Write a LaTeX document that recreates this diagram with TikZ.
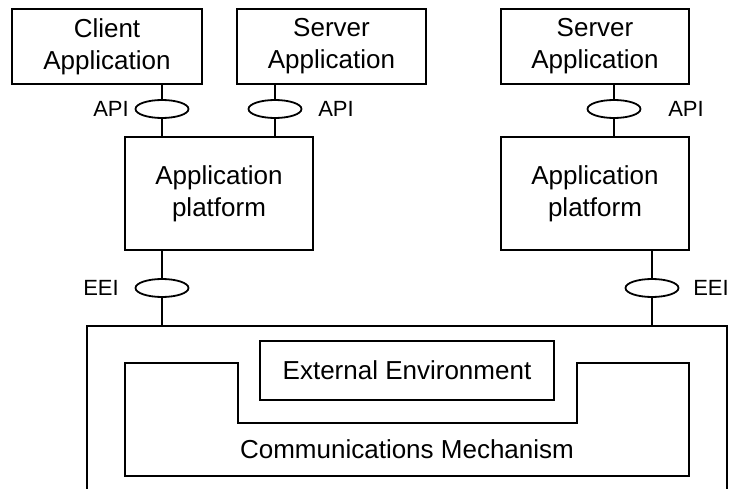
\documentclass[tikz,border=0pt]{standalone}
\usepackage{fontspec}
\setmainfont{Liberation Sans}
\usetikzlibrary{shapes.geometric}
\begin{document}
\begin{tikzpicture}[x=1pt,y=-1pt,line width=1.8pt,
  box/.style={draw,rectangle,inner sep=0pt,align=center,font=\fontsize{26}{32}\selectfont},
  iface/.style={draw,ellipse,inner sep=0pt,minimum width=53pt,minimum height=18pt},
  tag/.style={inner sep=0pt,font=\fontsize{22}{26}\selectfont}]
\useasboundingbox (0,0) rectangle (729,489);
% applications
\node[box,minimum width=190pt,minimum height=75pt] (client) at (107,46.5) {Client\\Application};
\node[box,minimum width=189pt,minimum height=75pt] (srvL) at (331.5,46.5) {Server\\Application};
\node[box,minimum width=188pt,minimum height=75pt] (srvR) at (595,46.5) {Server\\Application};
% platforms
\node[box,minimum width=188pt,minimum height=113pt] (platL) at (219,193.5) {Application\\platform};
\node[box,minimum width=188pt,minimum height=113pt] (platR) at (595,193.5) {Application\\platform};
% interfaces
\node[iface] (apiC) at (162,109) {};
\node[iface] (apiL) at (275,109) {};
\node[iface] (apiR) at (614,109) {};
\node[iface] (eeiL) at (162,288) {};
\node[iface] (eeiR) at (652,288) {};
\node[tag] (apiCtag) at (111,109) {API};
\node[tag] (apiLtag) at (336,109) {API};
\node[tag] (apiRtag) at (686,109) {API};
\node[tag] (eeiLtag) at (101,288) {EEI};
\node[tag] (eeiRtag) at (711,288) {EEI};
% outer environment, open at the bottom
\coordinate (envtop) at (407,326);
\draw (87,492) -- (87,326) -- (727,326) -- (727,492);
\node[box,minimum width=294pt,minimum height=59pt] (extenv) at (407,370.5) {External Environment};
\draw (125,363) -- (238,363) -- (238,423) -- (577,423) -- (577,363)
  -- (689,363) -- (689,476) -- (125,476) -- cycle;
\node[font=\fontsize{26}{32}\selectfont] (comm) at (407,449) {Communications Mechanism};
% connectors
\draw (apiC.north |- client.south) -- (apiC.north);
\draw (apiC.south) -- (apiC.south |- platL.north);
\draw (apiL.north |- srvL.south) -- (apiL.north);
\draw (apiL.south) -- (apiL.south |- platL.north);
\draw (apiR.north |- srvR.south) -- (apiR.north);
\draw (apiR.south) -- (apiR.south |- platR.north);
\draw (eeiL.north |- platL.south) -- (eeiL.north);
\draw (eeiL.south) -- (eeiL.south |- envtop);
\draw (eeiR.north |- platR.south) -- (eeiR.north);
\draw (eeiR.south) -- (eeiR.south |- envtop);
\end{tikzpicture}
\end{document}
